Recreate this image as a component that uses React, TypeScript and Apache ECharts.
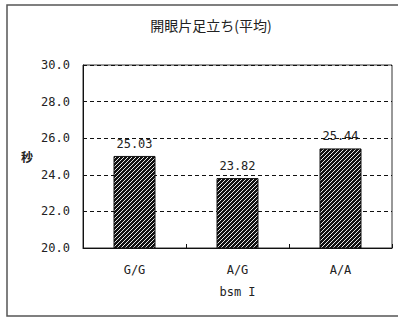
import React, { useEffect, useRef } from "react";
import * as echarts from "echarts";

const title = "開眼片足立ち(平均)";
const categories = ["G/G", "A/G", "A/A"];
const values = [25.03, 23.82, 25.44];
const yAxisName = "秒";
const xAxisName = "bsm I";
const yMin = 20;
const yMax = 30;
const yInterval = 2;

function makeHatch(): HTMLCanvasElement {
  const c = document.createElement("canvas");
  c.width = 8;
  c.height = 8;
  const ctx = c.getContext("2d")!;
  ctx.fillStyle = "#111";
  ctx.fillRect(0, 0, 8, 8);
  ctx.fillStyle = "#e8e8e8";
  for (let x = 0; x < 8; x++) {
    for (let y = 0; y < 8; y++) {
      if ((x + y) % 4 === 0) ctx.fillRect(x, y, 1, 1);
    }
  }
  return c;
}

export default function App() {
  const ref = useRef<HTMLDivElement>(null);
  useEffect(() => {
    document.body.style.margin = "0";
    const chart = echarts.init(ref.current!, null, { renderer: "svg" });
    const font = "'Noto Sans CJK JP', sans-serif";
    const mono = "'DejaVu Sans Mono', monospace";
    chart.setOption({
      animation: false,
      backgroundColor: "#fff",
      textStyle: { fontFamily: font },
      graphic: [
        {
          type: "rect",
          shape: { x: 7, y: 5, width: 400, height: 311 },
          style: { fill: "none", stroke: "#555", lineWidth: 1.5 },
          silent: true,
        },
        {
          type: "text",
          x: 27,
          y: 156,
          style: {
            text: yAxisName,
            font: `bold 12px ${font}`,
            fill: "#222",
            align: "center",
            verticalAlign: "middle",
          },
        },
      ],
      title: {
        text: title,
        left: 206,
        top: 13,
        textAlign: "center",
        textStyle: { fontSize: 14, fontWeight: "normal", color: "#222", fontFamily: font },
      },
      grid: {
        left: 83,
        top: 65,
        right: 6,
        bottom: 70,
        show: true,
        borderColor: "#333",
        borderWidth: 1,
        backgroundColor: "transparent",
      },
      xAxis: {
        type: "category",
        data: categories,
        name: xAxisName,
        nameLocation: "middle",
        nameGap: 38,
        nameTextStyle: { fontSize: 12, color: "#222", fontFamily: mono },
        axisLine: { lineStyle: { color: "#111", width: 1 } },
        axisTick: { show: true, inside: true, length: 4, lineStyle: { color: "#111" } },
        axisLabel: { fontSize: 12, color: "#222", margin: 16, fontFamily: mono },
      },
      yAxis: {
        type: "value",
        min: yMin,
        max: yMax,
        interval: yInterval,
        axisLine: { show: true, lineStyle: { color: "#111", width: 1 } },
        axisTick: { show: true, inside: true, length: 4, lineStyle: { color: "#111" } },
        axisLabel: {
          fontSize: 12,
          color: "#222",
          margin: 13,
          fontFamily: mono,
          formatter: (v: number) => v.toFixed(1),
        },
        splitLine: {
          show: true,
          lineStyle: { color: "#111", type: [4, 3], width: 1 },
        },
      },
      series: [
        {
          type: "bar",
          data: values,
          barWidth: 42,
          itemStyle: {
            color: { image: makeHatch(), repeat: "repeat" },
            borderColor: "#111",
            borderWidth: 1,
          },
          label: {
            show: true,
            position: "top",
            distance: 6,
            fontSize: 12,
            color: "#222",
            fontFamily: mono,
            formatter: (p: any) => p.value.toFixed(2),
          },
        },
      ],
    });
    return () => chart.dispose();
  }, []);
  return <div ref={ref} style={{ width: 398, height: 318 }} />;
}
